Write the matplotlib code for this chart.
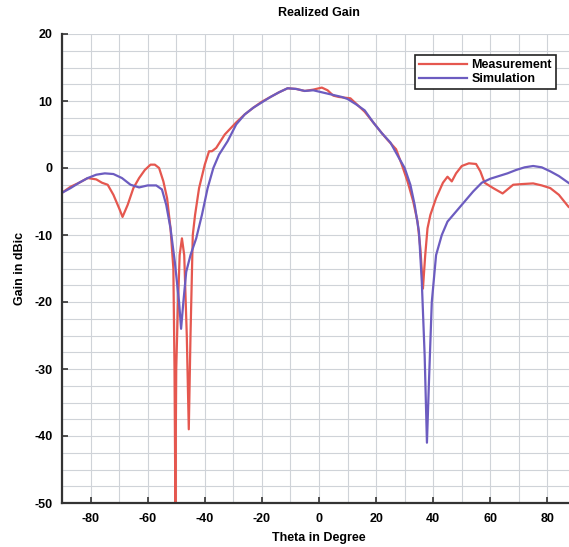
import numpy as np
import matplotlib
matplotlib.use("Agg")
import matplotlib.pyplot as plt
from matplotlib.ticker import MultipleLocator

plt.rcParams.update({
    "font.family": ["Liberation Sans", "DejaVu Sans"], "font.size": 9,
    "font.weight": "bold", "axes.unicode_minus": False,
})
RED, PURPLE = "#e5574f", "#6c5cc0"

# Simulation (theta in deg, gain in dBic)
sim_theta = [-90, -87, -84, -81, -78, -75, -72, -69, -66, -63, -60, -57, -55,
             -53.5, -52, -50.5, -49, -48.3, -47.5, -46.5, -45, -43, -41, -39,
             -37, -35, -32, -29, -26, -23, -20, -17, -14, -11, -8, -5, -2, 0,
             2, 5, 8, 10, 13, 16, 19, 22, 25, 28, 30, 32, 33.5, 35, 36, 37,
             37.8, 38.5, 39.5, 41, 43, 45, 48, 51, 54, 57, 60, 63, 66, 69, 72,
             75, 78, 81, 84, 87, 90]
sim_gain = [-3.7, -3.0, -2.2, -1.5, -1.0, -0.8, -0.9, -1.5, -2.5, -2.9, -2.6,
            -2.6, -3.2, -5.5, -9, -14, -20, -24, -20, -15.5, -13, -10.5, -7,
            -3, 0, 2, 4, 6.5, 8, 9, 9.8, 10.6, 11.3, 11.9, 11.8, 11.5,
            11.6, 11.4, 11.2, 10.9, 10.6, 10.3, 9.5, 8.6, 6.8, 5.2, 3.8, 1.5, 0,
            -2.5, -5.5, -9.5, -17, -28, -41, -32, -20, -13, -10, -8, -6.5, -5,
            -3.5, -2.2, -1.6, -1.2, -0.8, -0.3, 0.1, 0.3, 0.1, -0.5, -1.2, -2.1,
            -3]

# Measurement
meas_theta = [-90, -87, -84, -81, -78, -76, -74, -72, -70, -68.8, -67, -65,
              -63, -61, -59, -57.5, -56, -54.5, -53.2, -52, -51, -50.6, -50.3,
              -50.0, -49.5, -48.8, -48, -47.2, -46.3, -45.6, -45, -44.2, -43.4,
              -42, -40, -38.5, -37.5, -36, -33, -29, -26, -23, -20, -17, -14,
              -11, -8, -5, -2, 0, 1, 3, 5, 7, 9, 11, 13, 16, 19, 22, 24, 27,
              29, 31, 33, 34.5, 35.5, 36.4, 37.2, 38, 39, 41, 43.4, 45, 46.5,
              48, 50, 52.5, 55, 56.5, 58, 61, 64.3, 66, 68, 71, 75, 78, 81, 84,
              87.4, 90]
meas_gain = [-3.7, -2.8, -2.2, -1.5, -1.7, -2.2, -2.5, -4, -6, -7.3, -5.5, -3,
             -1.5, -0.3, 0.5, 0.5, 0, -2, -4.5, -9, -15, -30, -50, -30, -22,
             -13, -10.5, -13, -25, -39, -25, -10, -7, -3, 0.5, 2.5, 2.5, 3,
             5, 6.8, 8, 9, 9.9, 10.6, 11.3, 11.9, 11.8, 11.5, 11.7, 11.9, 12,
             11.6, 10.8, 10.6, 10.5, 10.4, 9.6, 8.4, 6.8, 5.2, 4.2, 2.8,
             0.5, -2, -5, -8, -12, -18, -13, -9, -7, -4.5, -2.2, -1.3, -2,
             -0.8, 0.3, 0.7, 0.6, -0.5, -2.2, -3, -3.8, -3.2, -2.5, -2.4, -2.3,
             -2.6, -3, -4, -5.8, -6.5]

fig = plt.figure(figsize=(5.69, 5.47), dpi=100)
ax = fig.add_axes([62 / 569, 44 / 547, 514 / 569, 469 / 547])

ax.plot(meas_theta, meas_gain, color=RED, lw=1.6, label="Measurement")
ax.plot(sim_theta, sim_gain, color=PURPLE, lw=1.6, label="Simulation")

ax.set_xlim(-90, 90)
ax.set_ylim(-50, 20)
ax.xaxis.set_major_locator(MultipleLocator(20))
ax.xaxis.set_minor_locator(MultipleLocator(10))
ax.yaxis.set_major_locator(MultipleLocator(10))
ax.yaxis.set_minor_locator(MultipleLocator(2.5))
ax.grid(True, which="both", color="#cfd3d8", lw=0.8)
ax.set_axisbelow(True)
ax.tick_params(which="major", direction="in", length=4, width=1.2,
               color="#333333", pad=7)
ax.tick_params(which="minor", length=0)
for s in ("top", "right"):
    ax.spines[s].set_visible(False)
for s in ("left", "bottom"):
    ax.spines[s].set_color("#333333")
    ax.spines[s].set_linewidth(1.6)

fig.text(319 / 569, 1 - 13 / 547, "Realized Gain", ha="center", va="center")
fig.text(319 / 569, 1 - 538 / 547, "Theta in Degree", ha="center",
         va="center")
fig.text(20 / 569, 1 - 268 / 547, "Gain in dBic", ha="center", va="center",
         rotation=90)

leg = ax.legend(loc="upper right", bbox_to_anchor=(562 / 569, 1 - 49 / 547),
                bbox_transform=fig.transFigure, fancybox=False, framealpha=1,
                edgecolor="#222222", handlelength=3.8, handletextpad=0.4,
                borderpad=0.3, labelspacing=0.2, fontsize=9)
leg.get_frame().set_linewidth(1.2)

fig.savefig("out.png", dpi=100)
